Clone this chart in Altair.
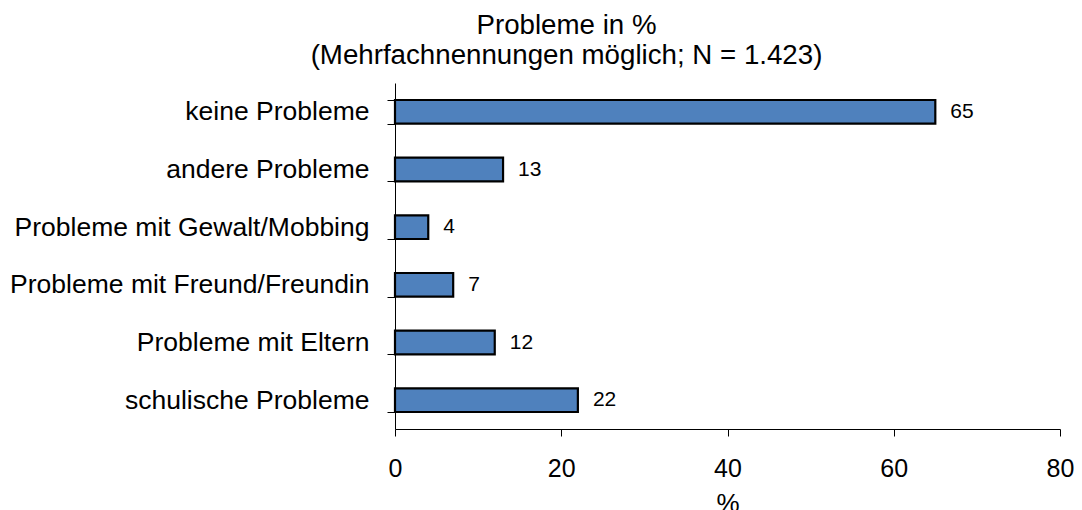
import altair as alt
import pandas as pd

categories = ["keine Probleme", "andere Probleme", "Probleme mit Gewalt/Mobbing",
              "Probleme mit Freund/Freundin", "Probleme mit Eltern", "schulische Probleme"]
values = [65, 13, 4, 7, 12, 22]

df = pd.DataFrame({"cat": categories, "val": values})
FONT = "Liberation Sans"

base = alt.Chart(df).encode(
    y=alt.Y("cat:N", sort=categories, title=None,
            scale=alt.Scale(paddingInner=0.59, paddingOuter=0.295),
            axis=alt.Axis(tickBand="extent", labelFontSize=26.5, labelFont=FONT,
                          labelColor="black", labelPadding=18, tickSize=8,
                          tickColor="black", domainColor="black", labelLimit=600)),
    x=alt.X("val:Q", title="%",
            scale=alt.Scale(domain=[0, 80]),
            axis=alt.Axis(values=[0, 20, 40, 60, 80], grid=False, labelFontSize=25,
                          labelFlush=False,
                          labelFont=FONT, labelColor="black", labelPadding=20,
                          tickSize=7, tickColor="black", domainColor="black",
                          titleFontSize=26, titleFont=FONT, titleFontWeight="normal",
                          titleColor="black", titlePadding=9)),
)

bars = base.mark_bar(color="#4f81bd", stroke="black", strokeWidth=2.2)
text = base.mark_text(align="left", dx=15, fontSize=21, font=FONT, color="black").encode(
    text="val:Q")

chart = (bars + text).properties(
    width=665, height=346,
    background="white",
    padding={"left": 1, "right": 0, "top": 4, "bottom": 0},
    title=alt.TitleParams(["Probleme in %", "(Mehrfachnennungen möglich; N = 1.423)"],
                          fontSize=27.7, font=FONT, fontWeight="normal", color="black",
                          anchor="middle", frame="group", dx=-161, offset=0, lineHeight=30),
).configure_view(strokeWidth=0)

chart.save("out.html", embed_options={"renderer": "svg", "actions": False})
